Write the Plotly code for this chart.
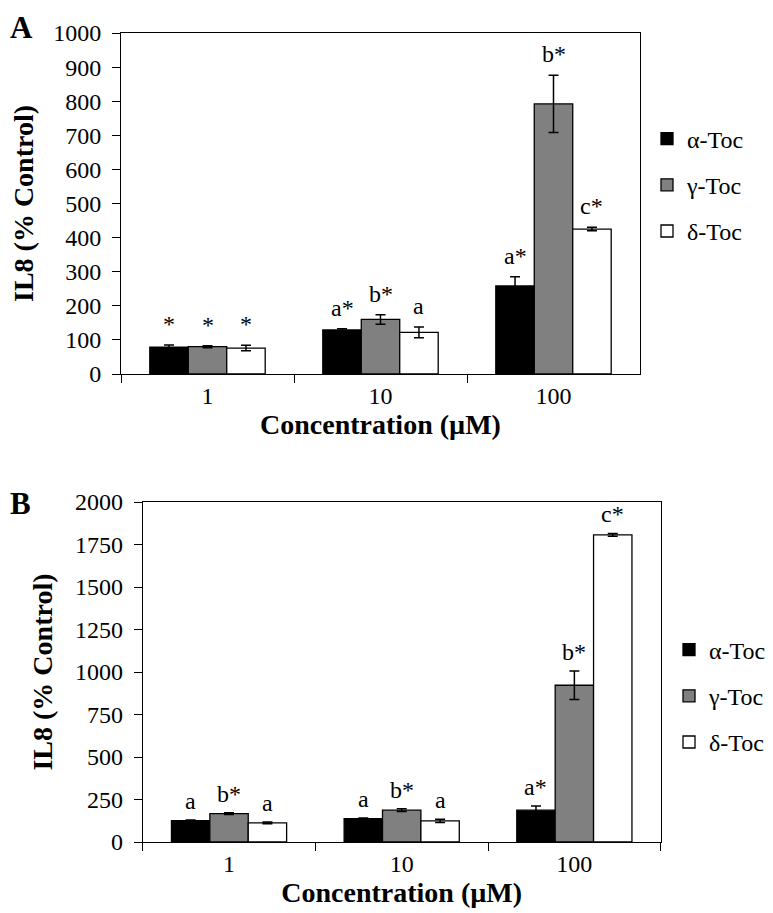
import plotly.graph_objects as go
from plotly.subplots import make_subplots

# ---- data ----
concentrations = ["1", "10", "100"]
series_names = ["α-Toc", "γ-Toc", "δ-Toc"]
bar_colors = ["#000000", "#808080", "#ffffff"]

# Panel A: IL8 (% control)
a_alpha = [79, 129, 258]
a_gamma = [80, 160, 792]
a_delta = [76, 122, 425]
a_alpha_err = [6, 4, 27]
a_gamma_err = [3, 14, 84]
a_delta_err = [8, 16, 5]
a_alpha_lbl = ["*", "a*", "a*"]
a_gamma_lbl = ["*", "b*", "b*"]
a_delta_lbl = ["*", "a", "c*"]

# Panel B: IL8 (% control)
b_alpha = [126, 138, 187]
b_gamma = [167, 187, 922]
b_delta = [112, 124, 1807]
b_alpha_err = [3, 3, 25]
b_gamma_err = [5, 8, 84]
b_delta_err = [5, 10, 8]
b_alpha_lbl = ["a", "a", "a*"]
b_gamma_lbl = ["b*", "b*", "b*"]
b_delta_lbl = ["a", "a", "c*"]

FONT = "Liberation Serif, Times New Roman, serif"
BARGAP = 0.333

# page body has an 8px margin, so the figure is shrunk and placed in screen pixels
OFF = 8
W, H = 773 - OFF, 913 - OFF


def px(x):
    return (x - OFF) / W


def py(y):
    return 1 - (y - OFF) / H


panels = [
    dict(vals=[a_alpha, a_gamma, a_delta], errs=[a_alpha_err, a_gamma_err, a_delta_err],
         lbls=[a_alpha_lbl, a_gamma_lbl, a_delta_lbl], legend="legend",
         yrange=[0, 1000], dtick=100, shift=6),
    dict(vals=[b_alpha, b_gamma, b_delta], errs=[b_alpha_err, b_gamma_err, b_delta_err],
         lbls=[b_alpha_lbl, b_gamma_lbl, b_delta_lbl], legend="legend2",
         yrange=[0, 2000], dtick=250, shift=4),
]

fig = make_subplots(rows=2, cols=1)

annotations = []
bar_w = (1 - BARGAP) / 3
for row, p in enumerate(panels, start=1):
    for k, name in enumerate(series_names):
        fig.add_trace(go.Bar(
            x=concentrations, y=p["vals"][k], name=name,
            marker=dict(color=bar_colors[k], line=dict(color="black", width=1.3)),
            error_y=dict(type="data", array=p["errs"][k], color="black",
                         thickness=1.5, width=5),
            legend=p["legend"], legendgroup=f"{row}-{k}",
        ), row=row, col=1)
        # significance letters above error bars
        for i in range(len(concentrations)):
            annotations.append(dict(
                x=i + (k - 1) * bar_w, y=p["vals"][k][i] + p["errs"][k][i],
                xref=f"x{'' if row == 1 else row}", yref=f"y{'' if row == 1 else row}",
                text=p["lbls"][k][i], showarrow=False, yanchor="bottom",
                yshift=p["shift"], font=dict(family=FONT, size=24, color="black"),
            ))
    fig.update_yaxes(range=p["yrange"], dtick=p["dtick"], row=row, col=1)

axis_common = dict(showline=True, linecolor="black", linewidth=1, mirror=True,
                   showgrid=False, zeroline=False, ticks="outside", tickcolor="black",
                   automargin=False,
                   tickfont=dict(family=FONT, size=24, color="black"))
fig.update_xaxes(**axis_common, ticklen=8, tickson="boundaries",
                 title=dict(text="<b>Concentration (µM)</b>", standoff=4,
                            font=dict(family=FONT, size=28, color="black")))
fig.update_yaxes(**axis_common, ticklen=8, ticklabelstandoff=6,
                 title=dict(text="<b>IL8 (% Control)</b>", standoff=14,
                            font=dict(family=FONT, size=28, color="black")))

fig.update_layout(
    xaxis=dict(domain=[px(121), px(640)]),
    yaxis=dict(domain=[py(374), py(33)]),
    xaxis2=dict(domain=[px(142.7), px(660.7)]),
    yaxis2=dict(domain=[py(842), py(502)]),
)

legend_common = dict(font=dict(family=FONT, size=24, color="black"),
                     traceorder="grouped", tracegroupgap=12,
                     bgcolor="rgba(0,0,0,0)", xanchor="left", yanchor="middle")
annotations += [
    dict(x=0, y=1, xref="paper", yref="paper", text="<b>A</b>", showarrow=False,
         xanchor="left", yanchor="top", font=dict(family=FONT, size=31, color="black")),
    dict(x=0, y=py(484), xref="paper", yref="paper", text="<b>B</b>", showarrow=False,
         xanchor="left", yanchor="top", font=dict(family=FONT, size=31, color="black")),
]

fig.update_layout(
    width=W, height=H,
    margin=dict(l=0, r=0, t=0, b=0, autoexpand=False),
    barmode="group", bargap=BARGAP, bargroupgap=0,
    plot_bgcolor="white", paper_bgcolor="white",
    showlegend=True,
    legend=dict(x=px(647), y=py(185), **legend_common),
    legend2=dict(x=px(669), y=py(696), **legend_common),
    annotations=annotations,
    font=dict(family=FONT, color="black"),
)

fig.write_html("out.html")
